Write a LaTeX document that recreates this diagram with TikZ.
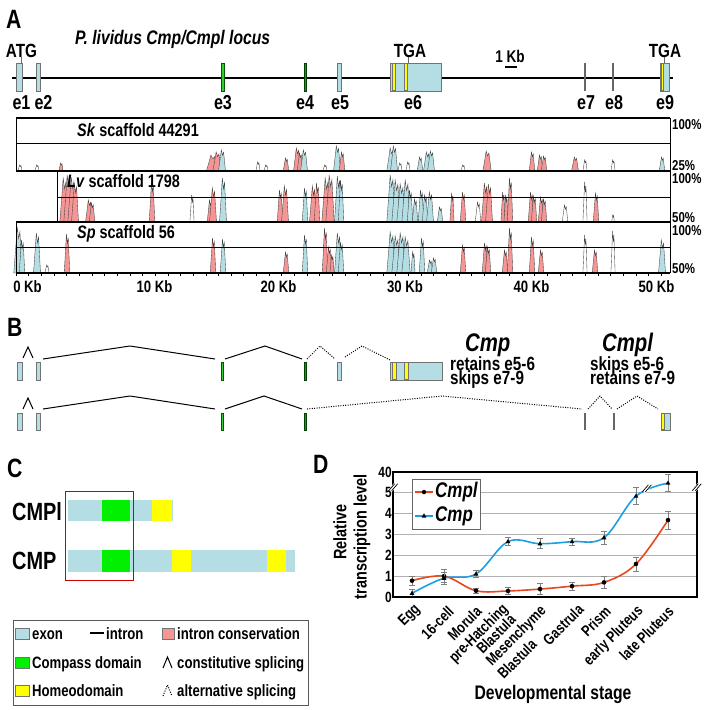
\documentclass[tikz,border=0pt]{standalone}
\usepackage{fontspec}
\setmainfont{Liberation Sans}[FakeStretch=0.8]
\usetikzlibrary{calc}
\definecolor{exonblue}{RGB}{180,221,228}
\definecolor{pk}{RGB}{245,150,150}
\colorlet{bl}{exonblue}
\colorlet{wh}{white}
\definecolor{egreen}{RGB}{50,205,50}
\definecolor{edark}{RGB}{40,135,60}
\definecolor{cgreen}{RGB}{0,240,0}
\definecolor{hyellow}{RGB}{255,255,0}
\definecolor{cmplred}{RGB}{232,72,30}
\definecolor{cmpblue}{RGB}{30,158,226}
\newcommand{\fsz}[1]{\fontsize{\fpeval{1.06*#1}}{\fpeval{1.06*#1}}\selectfont}
% one conservation peak: x, half width, top, base, colour
\newcommand{\peak}[5]{\filldraw[fill=#5, draw=black!75, line width=0.35pt]
  ({#1-#2},#4) -- ({#1-0.5*#2},{#3+0.4*(#4-#3)}) -- ({#1-0.2*#2},#3)
  -- ({#1+0.15*#2},{#3+0.25*(#4-#3)}) -- ({#1+0.45*#2},{#3+0.1*(#4-#3)})
  -- ({#1+#2},#4) -- cycle;}
% axis break mark
\newcommand{\brk}[1]{\draw[white, line width=4pt] (#1) ++(-3pt,-3.5pt) -- ++(6pt,7pt);
  \draw[line width=0.7pt] (#1) ++(-4.5pt,-3.5pt) -- ++(6pt,7pt) (#1) ++(-1.5pt,-3.5pt) -- ++(6pt,7pt);}
\tikzset{
  lbl/.style={inner sep=0pt, font=\bfseries\fsz{18}},
  panel/.style={inner sep=0pt, font=\bfseries\fsz{25}},
  exon/.style={draw=black!55, fill=exonblue, line width=0.6pt},
  gexon/.style={draw=green!35!black, fill=egreen, line width=0.5pt},
  dexon/.style={draw=green!25!black, fill=edark, line width=0.5pt},
  hbox/.style={fill=hyellow, draw=black!55, line width=0.4pt},
  intron/.style={line width=1pt},
  alt/.style={line width=1pt, dash pattern=on 1pt off 1.4pt},
  tick/.style={black!60, line width=0.6pt},
  err/.style={black!50, line width=0.7pt},
  stage/.style={lbl, anchor=east, rotate=45, font=\bfseries\fsz{14.5}},
}
\begin{document}
\begin{tikzpicture}[x=1pt, y=-1pt]
\useasboundingbox (0,0) rectangle (707,710);

%%%%% A: LOCUS %%%%%
\node[panel, anchor=base west] (labA) at (6,28) {A};
\node[lbl, anchor=base west, font=\bfseries\itshape\fsz{18.5}] (locus) at (75,44) {P. lividus Cmp/Cmpl locus};

\draw[line width=2.4pt] (12,78) -- (673,78);
\foreach \xa/\xb in {16/22, 36/40, 337/341, 390/441, 660/669}
  \draw[exon] (\xa,63) rectangle (\xb,91);
\draw[gexon] (221,63) rectangle (224,91);
\draw[dexon] (304,63) rectangle (306,91);
\foreach \xa/\xb in {392/395, 404/407, 661/663}
  \draw[hbox] (\xa,63.5) rectangle (\xb,90.5);
\foreach \xe in {585, 613}
  \draw[black!60, line width=1.6pt] (\xe,63) -- (\xe,91);

\node[lbl, anchor=base] (atg) at (21.5,57) {ATG};
\draw[tick] (atg.south) -- ++(0,6);
\node[lbl, anchor=base] (tgaA) at (410,57) {TGA};
\draw[tick] (tgaA.south) ++(-2,0) -- ++(0,6);
\node[lbl, anchor=base] (tgaB) at (665,57) {TGA};
\draw[tick] (tgaB.south) ++(-1,0) -- ++(0,6);
\node[lbl, anchor=base, font=\bfseries\fsz{16}] (onekb) at (510,62) {1 Kb};
\draw[line width=1.4pt] (505,67) -- (517,67);

\foreach \n/\xl in {1/21.5, 2/43.5, 3/223, 4/305, 5/340, 6/413, 7/586, 8/614, 9/665}
  \node[lbl, anchor=base, font=\bfseries\fsz{19}] (e\n) at (\xl,109) {e\n};

%%%%% A: VISTA TRACKS %%%%%
\foreach \px/\pw/\pt/\pc in {20/1.5/165/wh, 37/1.5/165/wh, 61/1.5/163/pk, 212/4/155/pk,
  217/3/152/pk, 222/2.5/150/bl, 258/1.5/162/wh, 266/1.5/165/wh, 286/2/158/pk, 297/2.5/148/pk,
  300/2/153/pk, 304/2.5/150/bl, 325/1.5/165/wh, 337/2.5/146/bl, 342/2/152/pk, 391/3/148/bl,
  394/2.5/146/bl, 400/1.5/163/wh, 408/1.5/162/wh, 420/2/157/bl, 427/2.5/152/bl, 431/2.5/151/bl,
  463/1.5/165/wh, 487/3/151/pk, 532/2/152/pk, 540/2/155/pk, 544/2/156/pk, 575/2.5/157/pk,
  585/1.5/160/wh, 613/1.5/160/wh, 662/2/157/bl}
  {\peak{\px}{1.4*\pw}{\pt}{171}{\pc}}
\foreach \px/\pw/\pt/\pc in {64/3/178/pk, 68/3/175/pk, 72/3/177/pk, 75/2.5/183/pk, 89/2.5/200/pk,
  92/2/203/pk, 152/2/182/pk, 192/1.5/195/wh, 210/2/200/pk, 213/2.5/188/pk, 223/2.5/178/bl,
  280/2/190/pk, 285/2.5/186/pk, 305/2/188/bl, 313/2.5/186/pk, 317/2/183/pk, 326/3/178/pk,
  330/3/175/pk, 338/2.5/176/bl, 341/2/180/bl, 391/3/175/bl, 396/3/180/bl, 401/3/184/bl,
  406/3/180/bl, 410/2/190/bl, 415/2/199/bl, 421/2/190/bl, 425/2/195/bl, 430/2.5/192/bl,
  440/2/207/bl, 452/1.5/193/pk, 463/2/192/pk, 478/2/202/wh, 485/2.5/183/pk, 489/2.5/184/pk,
  503/1.5/192/pk, 506/1.5/195/pk, 510/2/178/pk, 531/2/192/pk, 534/2/196/pk, 541/2/197/pk,
  544/2/199/pk, 565/2/205/wh, 585/1.5/182/wh, 596/2/193/pk, 613/1/215/wh}
  {\peak{\px}{1.4*\pw}{\pt}{222}{\pc}}
\foreach \px/\pw/\pt/\pc in {18/3/227/bl, 22/2/240/bl, 37/2.5/233/bl, 47/1.5/265/wh, 67/2/234/pk,
  213/2/238/pk, 223/2/239/bl, 286/2/252/pk, 305/2/235/bl, 325/2/228/pk, 329/2/247/pk,
  332/1.5/255/pk, 338/2.5/233/bl, 341/2/242/bl, 391/3/232/bl, 396/3/236/bl, 401/3/233/bl,
  406/3/237/bl, 413/1.5/252/bl, 422/2/238/bl, 430/2/260/bl, 434/2/258/bl, 463/2/245/pk,
  485/2/243/pk, 488/2/247/pk, 505/2/250/pk, 510/2/228/pk, 532/2/237/pk, 541/2/250/pk,
  585/1.5/235/wh, 595/2/250/pk, 613/1.5/231/wh, 662/2.5/240/bl}
  {\peak{\px}{1.4*\pw}{\pt}{273}{\pc}}

\draw[line width=0.8pt] (16,143) -- (670,143) (57,197) -- (670,197) (16,247) -- (670,247);
\draw[line width=1pt] (16,118) -- (16,171) (57,171) -- (57,222) (16,222) -- (16,273) (670,118) -- (670,273);
\foreach \yy in {118,171,222,273}
  \draw[line width=1.8pt] (16,\yy) -- (670,\yy);
\foreach \k in {0,...,51}
  \draw[line width=0.5pt] ({16+12.65*\k},273) -- ++(0,3);

\node[lbl, anchor=base west, font=\bfseries\fsz{17}] (sk) at (77,136) {\textit{Sk} scaffold 44291};
\node[lbl, anchor=base west, font=\bfseries\fsz{17}] (lv) at (67,187) {\textit{Lv} scaffold 1798};
\node[lbl, anchor=base west, font=\bfseries\fsz{17}] (sp) at (77,238) {\textit{Sp} scaffold 56};
\foreach \yy/\pl in {129/100, 170/25, 183/100, 222/50, 235/100, 273/50}
  \node[lbl, anchor=base west, font=\bfseries\fsz{13.5}] at (672,\yy) {\pl\%};
\foreach \k/\xl in {0/27.5, 10/154.5, 20/278.5, 30/405, 40/531.5, 50/656.5}
  \node[lbl, anchor=base, font=\bfseries\fsz{15.5}] (kb\k) at (\xl,292) {\k\ Kb};

%%%%% B: TRANSCRIPTS %%%%%
\node[panel, anchor=base west] (labB) at (7,336) {B};
\foreach \xa/\xb in {17/22, 36/40, 337/341, 390/442}
  \draw[exon] (\xa,362) rectangle (\xb,380);
\draw[gexon] (221,362) rectangle (223.5,380);
\draw[dexon] (304,362) rectangle (306,380);
\foreach \xa/\xb in {392/396, 404/408}
  \draw[hbox] (\xa,362.5) rectangle (\xb,379.5);
\draw[intron] (23,358) -- (28,347) -- (33,358);
\draw[intron] (43,359) -- (130,346) -- (215,359);
\draw[intron] (225,359) -- (265,346) -- (302,359);
\draw[alt] (307,359) -- (320,346) -- (335,359);
\draw[alt] (345,357) -- (362,346) -- (390,360);

\foreach \xa/\xb in {17/22, 36/40, 661/670}
  \draw[exon] (\xa,413) rectangle (\xb,430);
\draw[gexon] (221,413) rectangle (223.5,430);
\draw[dexon] (304,413) rectangle (306,430);
\draw[hbox] (661.5,413.5) rectangle (664,429.5);
\foreach \xe in {585, 614}
  \draw[black!60, line width=1.6pt] (\xe,413) -- (\xe,430);
\draw[intron] (23,409) -- (28,398) -- (33,409);
\draw[intron] (43,409) -- (130,396) -- (215,409);
\draw[intron] (225,409) -- (264,396) -- (302,409);
\draw[alt] (307,409) -- (442,396) -- (582,409);
\draw[alt] (588,409) -- (600,396) -- (612,409);
\draw[alt] (617,409) -- (637,396) -- (658,409);

\node[lbl, anchor=base west, font=\bfseries\itshape\fsz{24}] (cmp) at (465,351) {Cmp};
\node[lbl, anchor=base west] (cmpa) at (450,370) {retains e5-6};
\node[lbl, anchor=base west] (cmpb) at (450,384) {skips e7-9};
\node[lbl, anchor=base west, font=\bfseries\itshape\fsz{24}] (cmpl) at (602,351) {Cmpl};
\node[lbl, anchor=base west] (cmpla) at (590,370) {skips e5-6};
\node[lbl, anchor=base west] (cmplb) at (590,384) {retains e7-9};

%%%%% C: PROTEINS %%%%%
\node[panel, anchor=base west] (labC) at (7,477) {C};
\node[lbl, anchor=base west, font=\bfseries\fsz{23.5}] (protl) at (12,520) {CMPl};
\node[lbl, anchor=base west, font=\bfseries\fsz{23.5}] (prot) at (12,569) {CMP};
\fill[exonblue] (68,500) rectangle (173,521);
\fill[cgreen] (102,500) rectangle (130,521);
\fill[hyellow] (152,500) rectangle (172,521);
\fill[exonblue] (68,550) rectangle (295,572);
\fill[cgreen] (102,550) rectangle (130,572);
\fill[hyellow] (172,550) rectangle (191,572);
\fill[hyellow] (267,550) rectangle (286,572);
\draw[red!80!black, line width=0.9pt] (65,491) rectangle (133,580);

\draw[black!65, line width=1pt] (13,620) rectangle (308,705);
\draw[black!55, fill=exonblue] (15,628) rectangle (29,639);
\draw[black!55, fill=cgreen] (15,657) rectangle (29,668);
\draw[black!55, fill=hyellow] (15,685) rectangle (29,696);
\draw[black!55, fill=pk] (162,628) rectangle (174,639);
\draw[line width=2pt] (90,633) -- (104,633);
\draw[line width=1pt] (163,668) -- (167.5,657) -- (172,668);
\draw[alt] (163,696) -- (167.5,685) -- (172,696);
\node[lbl, anchor=base west, font=\bfseries\fsz{15.5}] (lgexon) at (32,639) {exon};
\node[lbl, anchor=base west, font=\bfseries\fsz{15.5}] (lgintr) at (106,639) {intron};
\node[lbl, anchor=base west, font=\bfseries\fsz{15.5}] (lgcons) at (177,639) {intron conservation};
\node[lbl, anchor=base west, font=\bfseries\fsz{15.5}] (lgcomp) at (32,668) {Compass domain};
\node[lbl, anchor=base west, font=\bfseries\fsz{15.5}] (lgconst) at (177,668) {constitutive splicing};
\node[lbl, anchor=base west, font=\bfseries\fsz{15.5}] (lghomeo) at (32,696) {Homeodomain};
\node[lbl, anchor=base west, font=\bfseries\fsz{15.5}] (lgalt) at (177,696) {alternative splicing};

%%%%% D: EXPRESSION %%%%%
\node[panel, anchor=base west] (labD) at (313,473) {D};
\node[lbl, rotate=90, font=\bfseries\fsz{17}] (ytitA) at (340,532) {Relative};
\node[lbl, rotate=90, font=\bfseries\fsz{17}] (ytitB) at (362,537) {transcription level};
\node[lbl, font=\bfseries\fsz{18.5}] (xtit) at (553,694) {Developmental stage};
\foreach \n/\xs/\ys/\st in {1/418/607/Egg, 2/451/609/16-cell, 3/479/609/Morula,
  4/506/607/pre-Hatching, 4b/513/617/Blastula, 5/544/609/Mesenchyme, 5b/534/642/Blastula,
  6/581/607/Gastrula, 7/608/609/Prism, 8/641/609/early Pluteus, 9/671/609/late Pluteus}
  \node[stage] (st\n) at (\xs,\ys) {\st};

\begin{scope}[shift={(380,597)}, x=32pt, y=20.9pt]
  \foreach \v in {1,...,5}
    \draw[black!30, line width=0.9pt] (0.41,\v) -- (9.9,\v);
  \foreach \v in {0,...,5}
    \node[lbl, anchor=east, font=\bfseries\fsz{14}] (yl\v) at (0.37,\v) {\v};
  \node[lbl, anchor=east, font=\bfseries\fsz{14}] (yl40) at (0.37,5.98) {40};
  % legend
  \draw[black!60, fill=white, line width=0.8pt] (1.0,5.65) rectangle (3.125,3.25);
  \draw[cmplred, line width=1.6pt] (1.09,5.02) -- (1.66,5.02);
  \fill (1.375,5.02) circle (2.2pt);
  \draw[cmpblue, line width=1.6pt] (1.09,3.88) -- (1.66,3.88);
  \fill (1.375,3.88) ++(0,2.6pt) -- ++(-2.4pt,-4.2pt) -- ++(4.8pt,0) -- cycle;
  \node[lbl, anchor=west, font=\bfseries\itshape\fsz{20}] (lgcmpl) at (1.72,5.02) {Cmpl};
  \node[lbl, anchor=west, font=\bfseries\itshape\fsz{20}] (lgcmp) at (1.72,3.88) {Cmp};
  % curves
  \draw[cmplred, line width=1.6pt] plot[smooth, tension=0.6] coordinates
    {(1,0.78) (2,1.0) (3,0.3) (4,0.29) (5,0.38) (6,0.52) (7,0.70) (8,1.58) (9,3.68)};
  \draw[cmpblue, line width=1.6pt] plot[smooth, tension=0.6] coordinates
    {(1,0.18) (2,0.9) (3,1.1) (4,2.65) (5,2.55) (6,2.65) (7,2.84) (8,4.83) (9,5.45)};
  % error bars and marks
  \foreach \i/\v/\e in {1/0.78/0.23, 2/1.0/0.3, 3/0.3/0.12, 4/0.29/0.15, 5/0.38/0.27,
    6/0.52/0.2, 7/0.70/0.28, 8/1.58/0.33, 9/3.68/0.42}
    {\draw[err] (\i-0.08,\v-\e) -- (\i+0.08,\v-\e) (\i,\v-\e) -- (\i,\v+\e) (\i-0.08,\v+\e) -- (\i+0.08,\v+\e);
     \fill (\i,\v) circle (2.3pt);}
  \foreach \i/\v/\e in {1/0.18/0.2, 2/0.9/0.3, 3/1.1/0.17, 4/2.65/0.2, 5/2.55/0.24,
    6/2.65/0.16, 7/2.84/0.31, 8/4.83/0.42, 9/5.45/0.4}
    {\draw[err] (\i-0.08,\v-\e) -- (\i+0.08,\v-\e) (\i,\v-\e) -- (\i,\v+\e) (\i-0.08,\v+\e) -- (\i+0.08,\v+\e);
     \fill (\i,\v) ++(0,2.6pt) -- ++(-2.4pt,-4.2pt) -- ++(4.8pt,0) -- cycle;}
  \draw[line width=1.8pt] (0.41,0) rectangle (9.9,5.98);
  \brk{0.41,5.25}
  \brk{9.9,5.25}
  \brk{8.34,5.2}
\end{scope}
\end{tikzpicture}
\end{document}
